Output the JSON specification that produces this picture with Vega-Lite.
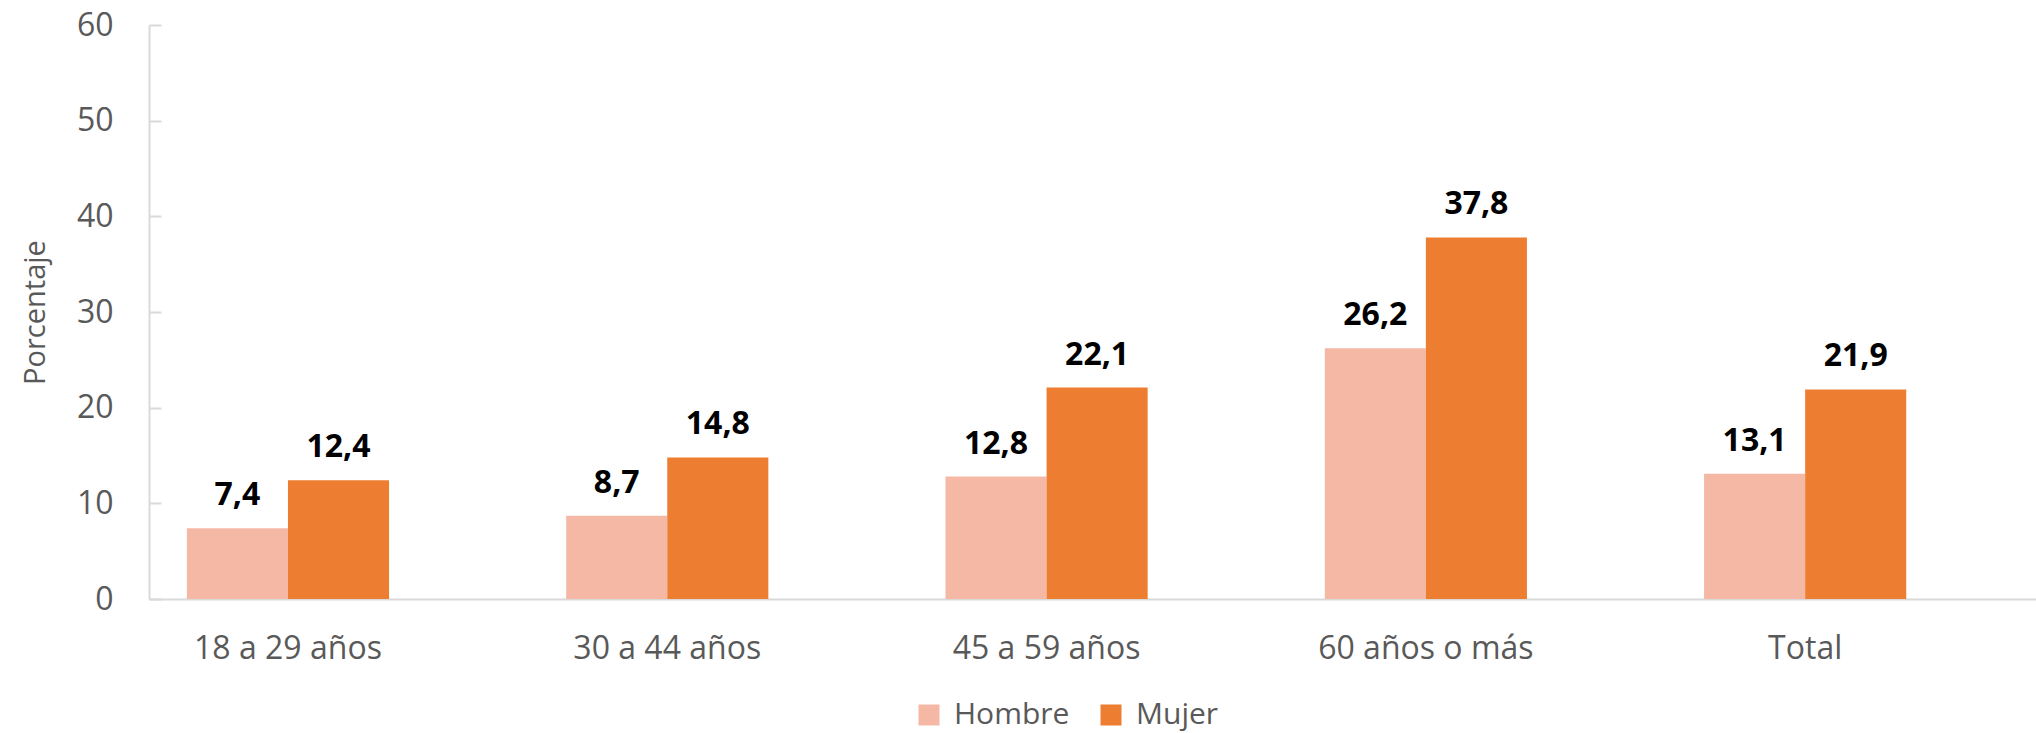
{
  "$schema": "https://vega.github.io/schema/vega-lite/v6.json",
  "width": 1887,
  "height": 574,
  "autosize": {"type": "none"},
  "padding": {"left": 149, "top": 25, "right": 0, "bottom": 134},
  "background": "white",
  "config": {
    "view": {"stroke": null},
    "font": "Open Sans"
  },
  "data": {
    "values": [
      {"grupo": "18 a 29 años", "sexo": "Hombre", "valor": 7.4, "etiqueta": "7,4"},
      {"grupo": "18 a 29 años", "sexo": "Mujer", "valor": 12.4, "etiqueta": "12,4"},
      {"grupo": "30 a 44 años", "sexo": "Hombre", "valor": 8.7, "etiqueta": "8,7"},
      {"grupo": "30 a 44 años", "sexo": "Mujer", "valor": 14.8, "etiqueta": "14,8"},
      {"grupo": "45 a 59 años", "sexo": "Hombre", "valor": 12.8, "etiqueta": "12,8"},
      {"grupo": "45 a 59 años", "sexo": "Mujer", "valor": 22.1, "etiqueta": "22,1"},
      {"grupo": "60 años o más", "sexo": "Hombre", "valor": 26.2, "etiqueta": "26,2"},
      {"grupo": "60 años o más", "sexo": "Mujer", "valor": 37.8, "etiqueta": "37,8"},
      {"grupo": "Total", "sexo": "Hombre", "valor": 13.1, "etiqueta": "13,1"},
      {"grupo": "Total", "sexo": "Mujer", "valor": 21.9, "etiqueta": "21,9"}
    ]
  },
  "encoding": {
    "x": {
      "field": "grupo",
      "type": "nominal",
      "sort": null,
      "scale": {"paddingInner": 0.467, "paddingOuter": 0.221, "align": 0.226},
      "axis": {
        "title": null,
        "labelAngle": 0,
        "labelFontSize": 32,
        "labelLimit": 500,
        "labelColor": "#595959",
        "labelPadding": 34,
        "ticks": false,
        "domainColor": "#d9d9d9",
        "domainWidth": 2
      }
    },
    "xOffset": {
      "field": "sexo",
      "type": "nominal",
      "sort": ["Hombre", "Mujer"],
      "scale": {"paddingInner": 0, "paddingOuter": 0}
    },
    "y": {
      "field": "valor",
      "type": "quantitative",
      "scale": {"domain": [0, 60], "nice": false},
      "axis": {
        "title": "Porcentaje",
        "titleFontSize": 29,
        "titleFontWeight": "normal",
        "titleColor": "#595959",
        "titlePadding": 26,
        "values": [0, 10, 20, 30, 40, 50, 60],
        "labelFontSize": 32,
        "labelColor": "#595959",
        "grid": false,
        "tickSize": -12,
        "tickColor": "#d9d9d9",
        "tickWidth": 2,
        "labelPadding": 48,
        "domainColor": "#d9d9d9",
        "domainWidth": 2
      }
    }
  },
  "layer": [
    {
      "mark": {"type": "bar"},
      "encoding": {
        "color": {
          "field": "sexo",
          "type": "nominal",
          "sort": ["Hombre", "Mujer"],
          "scale": {"domain": ["Hombre", "Mujer"], "range": ["#F4B8A5", "#ED7D31"]},
          "legend": {
            "title": null,
            "orient": "none",
            "direction": "horizontal",
            "legendX": 765,
            "legendY": 675,
            "symbolType": "square",
            "symbolSize": 441,
            "symbolStrokeWidth": 0,
            "labelFontSize": 30,
            "labelLimit": 400,
            "labelColor": "#595959",
            "labelOffset": 10,
            "columnPadding": 26
          }
        }
      }
    },
    {
      "mark": {"type": "text", "baseline": "alphabetic", "dy": -23, "fontSize": 32, "fontWeight": "bold", "color": "black"},
      "encoding": {
        "text": {"field": "etiqueta"}
      }
    }
  ]
}
